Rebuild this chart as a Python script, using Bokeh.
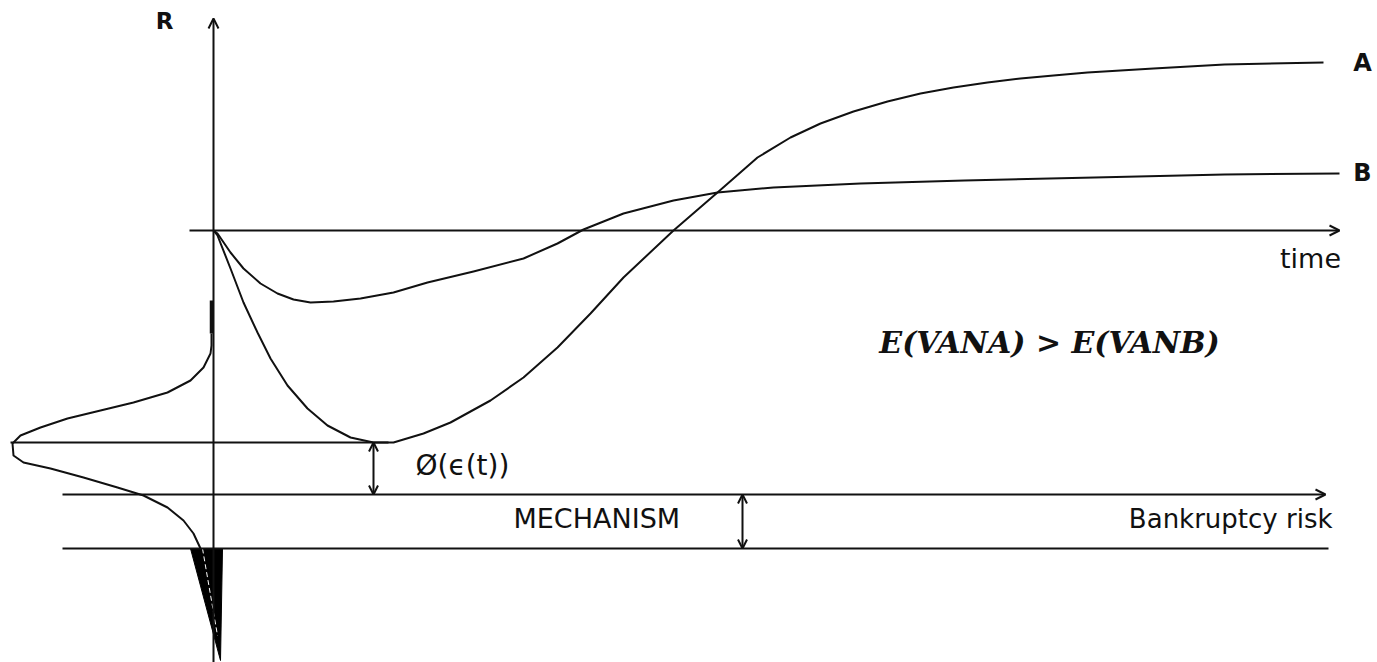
from bokeh.plotting import figure
from bokeh.models import Range1d, Arrow, OpenHead, Label
from bokeh.embed import file_html
from bokeh.resources import INLINE

# ---- data (t = time, R = return) ----
curve_a_t = [0, 4, 17, 30, 44, 57, 74, 94, 114, 137, 160, 180, 210, 237, 277, 310, 344, 377,
             410, 460, 504, 544, 577, 607, 640, 674, 707, 740, 774, 807, 840, 874, 907, 940,
             1011, 1110]
curve_a_r = [0, -5, -38, -72, -102, -128, -155, -178, -195, -207, -212, -212, -203, -192, -170,
             -147, -117, -83, -47, 0, 38, 73, 93, 107, 119, 129, 137, 143, 148, 152, 155, 158,
             160, 162, 166, 168]

curve_b_t = [0, 4, 17, 30, 47, 64, 80, 97, 120, 147, 180, 214, 260, 310, 344, 370, 410, 460,
             504, 560, 647, 751, 881, 1011, 1126]
curve_b_r = [0, -3, -22, -38, -53, -63, -69, -72, -71, -68, -62, -52, -41, -28, -13, 1, 17, 30,
             38, 43, 47, 50, 53, 56, 57]

# density of the shock (drawn sideways against the R axis)
density_t = [-2, -2, -3, -10, -23, -46, -80, -113, -146, -173, -193, -201, -200, -190, -163,
             -130, -96, -70, -46, -30, -20, -13]
density_r = [-103, -115, -123, -137, -150, -162, -172, -180, -188, -197, -205, -213, -225, -232,
             -238, -247, -257, -265, -277, -290, -303, -318]
density_top_t = [-2, -2]
density_top_r = [-70, -103]

# tail mass below the floor
tail_t = [-23, 9, 7]
tail_r = [-318, -318, -430]

level_threshold = -212   # minimum of curve A
level_bankruptcy = -264  # bankruptcy-risk axis
level_floor = -318       # lower bound

curve_labels = ["A", "B"]

# ---- figure ----
p = figure(width=1377, height=662,
           x_range=Range1d(-213, 1164), y_range=Range1d(-432, 230),
           output_backend="svg", toolbar_location=None,
           x_axis_location=None, y_axis_location=None,
           min_border=0, min_border_left=0, min_border_right=0,
           min_border_top=0, min_border_bottom=0)
p.grid.visible = False
p.outline_line_color = None
p.background_fill_color = "white"
p.border_fill_color = "white"

LW = 2
BLACK = "#111111"

# tail triangle
p.patch(tail_t, tail_r, fill_color="black", line_color="black", line_width=1)
p.line([-11, 4], [-318, -405], line_color="white", line_width=1, line_dash="5 3")

# R axis (vertical) with arrow
p.add_layout(Arrow(end=OpenHead(size=10, line_width=LW, line_color=BLACK),
                   x_start=0, y_start=-432, x_end=0, y_end=212,
                   line_width=LW, line_color=BLACK))
# time axis
p.add_layout(Arrow(end=OpenHead(size=10, line_width=LW, line_color=BLACK),
                   x_start=-24, y_start=0, x_end=1126, y_end=0,
                   line_width=LW, line_color=BLACK))
# bankruptcy-risk axis
p.add_layout(Arrow(end=OpenHead(size=10, line_width=LW, line_color=BLACK),
                   x_start=-151, y_start=level_bankruptcy, x_end=1112, y_end=level_bankruptcy,
                   line_width=LW, line_color=BLACK))
# threshold line and floor line
p.line([-203, 175], [level_threshold, level_threshold], line_color=BLACK, line_width=LW)
p.line([-151, 1115], [level_floor, level_floor], line_color=BLACK, line_width=LW)

# double arrows
p.add_layout(Arrow(start=OpenHead(size=9, line_width=LW, line_color=BLACK),
                   end=OpenHead(size=9, line_width=LW, line_color=BLACK),
                   x_start=160, y_start=level_threshold, x_end=160, y_end=level_bankruptcy,
                   line_width=LW, line_color=BLACK))
p.add_layout(Arrow(start=OpenHead(size=9, line_width=LW, line_color=BLACK),
                   end=OpenHead(size=9, line_width=LW, line_color=BLACK),
                   x_start=529, y_start=level_bankruptcy, x_end=529, y_end=level_floor,
                   line_width=LW, line_color=BLACK))

# curves
p.line(curve_a_t, curve_a_r, line_color=BLACK, line_width=LW, line_join="round")
p.line(curve_b_t, curve_b_r, line_color=BLACK, line_width=LW, line_join="round")
p.line(density_t, density_r, line_color=BLACK, line_width=LW, line_join="round")
p.line(density_top_t, density_top_r, line_color=BLACK, line_width=3.5)

SANS = "DejaVu Sans"

def add_label(x, y, text, size, align="center", font=SANS, style="normal"):
    p.add_layout(Label(x=x, y=y, text=text, text_font=font, text_font_size=size,
                       text_align=align, text_baseline="middle",
                       text_color=BLACK, text_font_style=style))

add_label(-49, 210, "R", "23px", style="bold")
add_label(1149, curve_a_r[-1], curve_labels[0], "24px", style="bold")
add_label(1149, curve_b_r[-1] + 1, curve_labels[1], "24px", style="bold")
add_label(1097, -28, "time", "27px")
add_label(836, -112, "E(VANA) > E(VANB)", "30px", font="DejaVu Serif", style="bold italic")
add_label(202, -235, "Ø(ϵ(t))", "28px", align="left")
add_label(300, -288, "MECHANISM", "27px", align="left")
add_label(1119, -288, "Bankruptcy risk", "26px", align="right")

open("out.html", "w").write(file_html(p, INLINE))
